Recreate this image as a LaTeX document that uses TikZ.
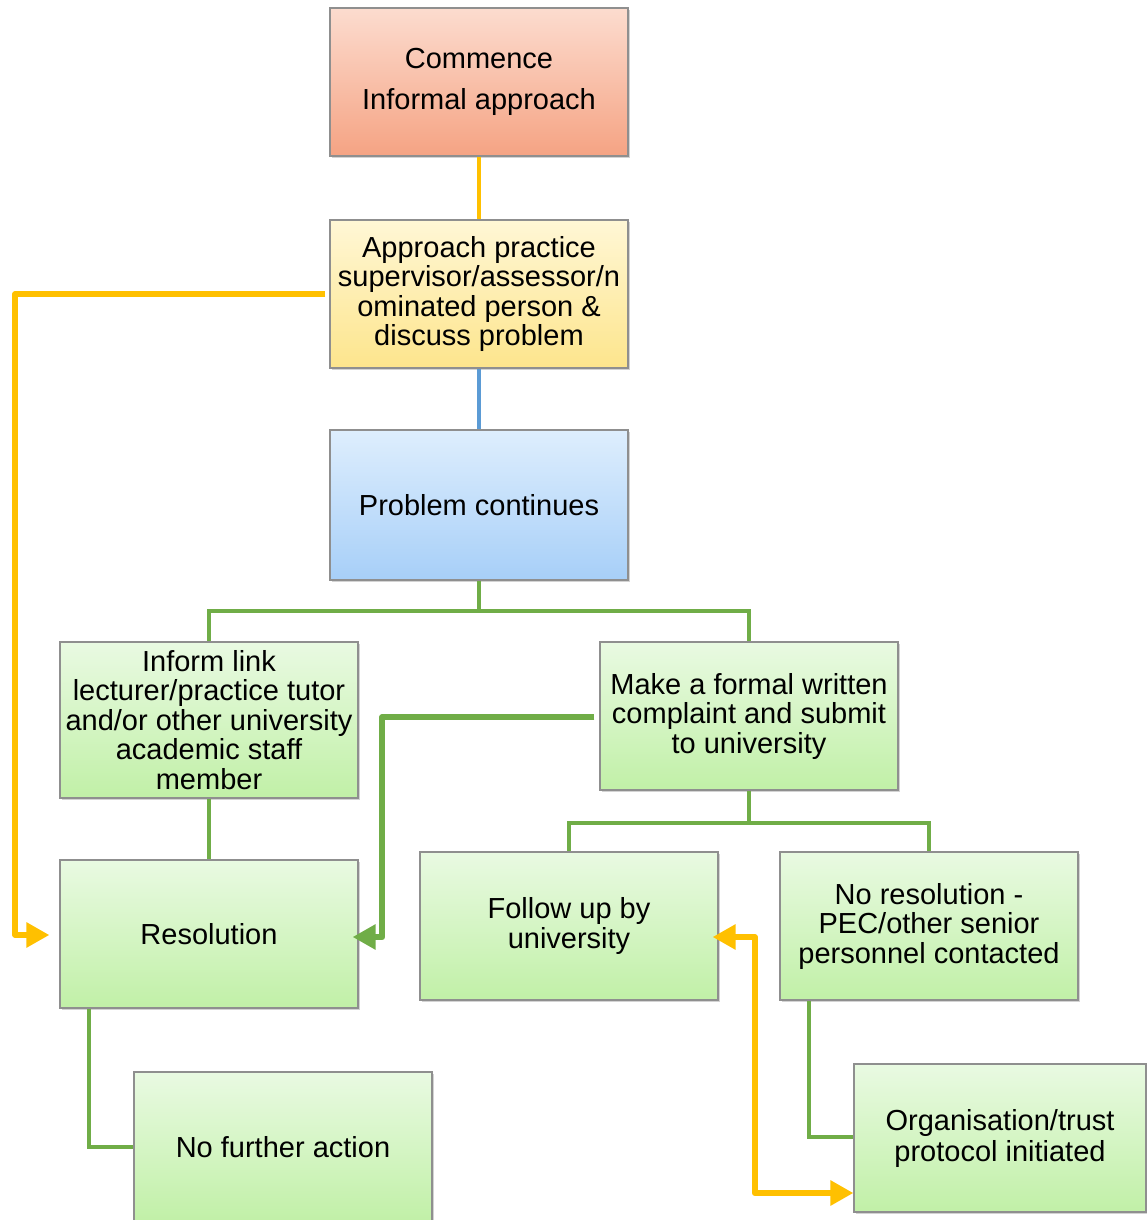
\documentclass[tikz,border=0pt]{standalone}
\usepackage{fontspec}
\setmainfont{Liberation Sans}
\usetikzlibrary{arrows.meta,shadows,calc}

\definecolor{lnOrange}{HTML}{FFC000}
\definecolor{lnGreen}{HTML}{70AD47}
\definecolor{lnBlue}{HTML}{5B9BD5}
\definecolor{edgeGray}{HTML}{8F8F8F}
\definecolor{redTop}{HTML}{FCDCCF}
\definecolor{redBot}{HTML}{F5A383}
\definecolor{yelTop}{HTML}{FFF7D6}
\definecolor{yelBot}{HTML}{FDE58C}
\definecolor{bluTop}{HTML}{DEEEFD}
\definecolor{bluBot}{HTML}{A7CFF8}
\definecolor{grnTop}{HTML}{E9FAE2}
\definecolor{grnBot}{HTML}{C1F0A7}

\tikzset{
  flowbox/.style={draw=edgeGray, line width=1.2pt, rectangle, inner sep=0pt,
    minimum width=298pt, minimum height=148pt, align=center,
    font=\fontsize{29}{29.5}\selectfont,
    drop shadow={opacity=0.35, shadow xshift=2pt, shadow yshift=-2pt}},
  redbox/.style={flowbox, top color=redTop, bottom color=redBot},
  yelbox/.style={flowbox, top color=yelTop, bottom color=yelBot},
  blubox/.style={flowbox, top color=bluTop, bottom color=bluBot},
  grnbox/.style={flowbox, top color=grnTop, bottom color=grnBot},
  thinlink/.style={line width=4pt},
  flowarrow/.style={line width=6pt, line join=round,
    arrows={-Triangle[length=23pt,width=24pt]}},
  twoarrow/.style={line width=6pt, line join=round,
    arrows={Triangle[length=23pt,width=24pt]-Triangle[length=23pt,width=24pt]}}
}

\begin{document}
\begin{tikzpicture}[x=1pt,y=-1pt]
\useasboundingbox (0,0) rectangle (1146,1220);

% boxes
\node[redbox, font=\fontsize{29}{41}\selectfont] (start) at (479,82) {Commence\\Informal approach};
\node[yelbox] (appr) at (479,294) {Approach practice\\supervisor/assessor/n\\ominated person \&\\discuss problem};
\node[blubox, minimum height=150pt] (cont) at (479,505) {Problem continues};
\node[grnbox, minimum height=156pt] (link) at (209,720) {Inform link\\lecturer/practice tutor\\and/or other university\\academic staff\\member};
\node[grnbox] (formal) at (749,716) {Make a formal written\\complaint and submit\\to university};
\node[grnbox] (res) at (209,934) {Resolution};
\node[grnbox] (follow) at (569,926) {Follow up by\\university};
\node[grnbox] (nores) at (929,926) {No resolution -\\PEC/other senior\\personnel contacted};
\node[grnbox, minimum height=150pt] (nfa) at (283,1147) {No further action};
\node[grnbox, minimum width=292pt, font=\fontsize{29}{31}\selectfont] (org) at (1000,1138) {Organisation/trust\\protocol initiated};

% straight links
\draw[thinlink, lnOrange] (start.south) -- (appr.north);
\draw[thinlink, lnBlue] (appr.south) -- (cont.north);
\draw[thinlink, lnGreen] (cont.south) -- ++(0,30) -| (link.north);
\draw[thinlink, lnGreen] (cont.south) -- ++(0,30) -| (formal.north);
\draw[thinlink, lnGreen] (link.south) -- (res.north);
\draw[thinlink, lnGreen] (formal.south) -- ++(0,32) -| (follow.north);
\draw[thinlink, lnGreen] (formal.south) -- ++(0,32) -| (nores.north);
\draw[thinlink, lnGreen] ($(res.south west)+(30,0)$) |- (nfa.west);
\draw[thinlink, lnGreen] ($(nores.south west)+(30,0)$) |- ($(org.west)+(0,-1)$);

% arrows
\draw[flowarrow, lnOrange] ($(appr.west)+(-4,0)$) -- ++(-310,0) |- ($(res.west)+(-10,1)$);
\draw[flowarrow, lnGreen] ($(formal.west)+(-5,1)$) -- ++(-212,0) |- ($(res.east)+(-6,3)$);
\draw[twoarrow, lnOrange] ($(follow.east)+(-6,11)$) -- ++(42,0) |- ($(org.west)+(0,55)$);
\end{tikzpicture}
\end{document}
